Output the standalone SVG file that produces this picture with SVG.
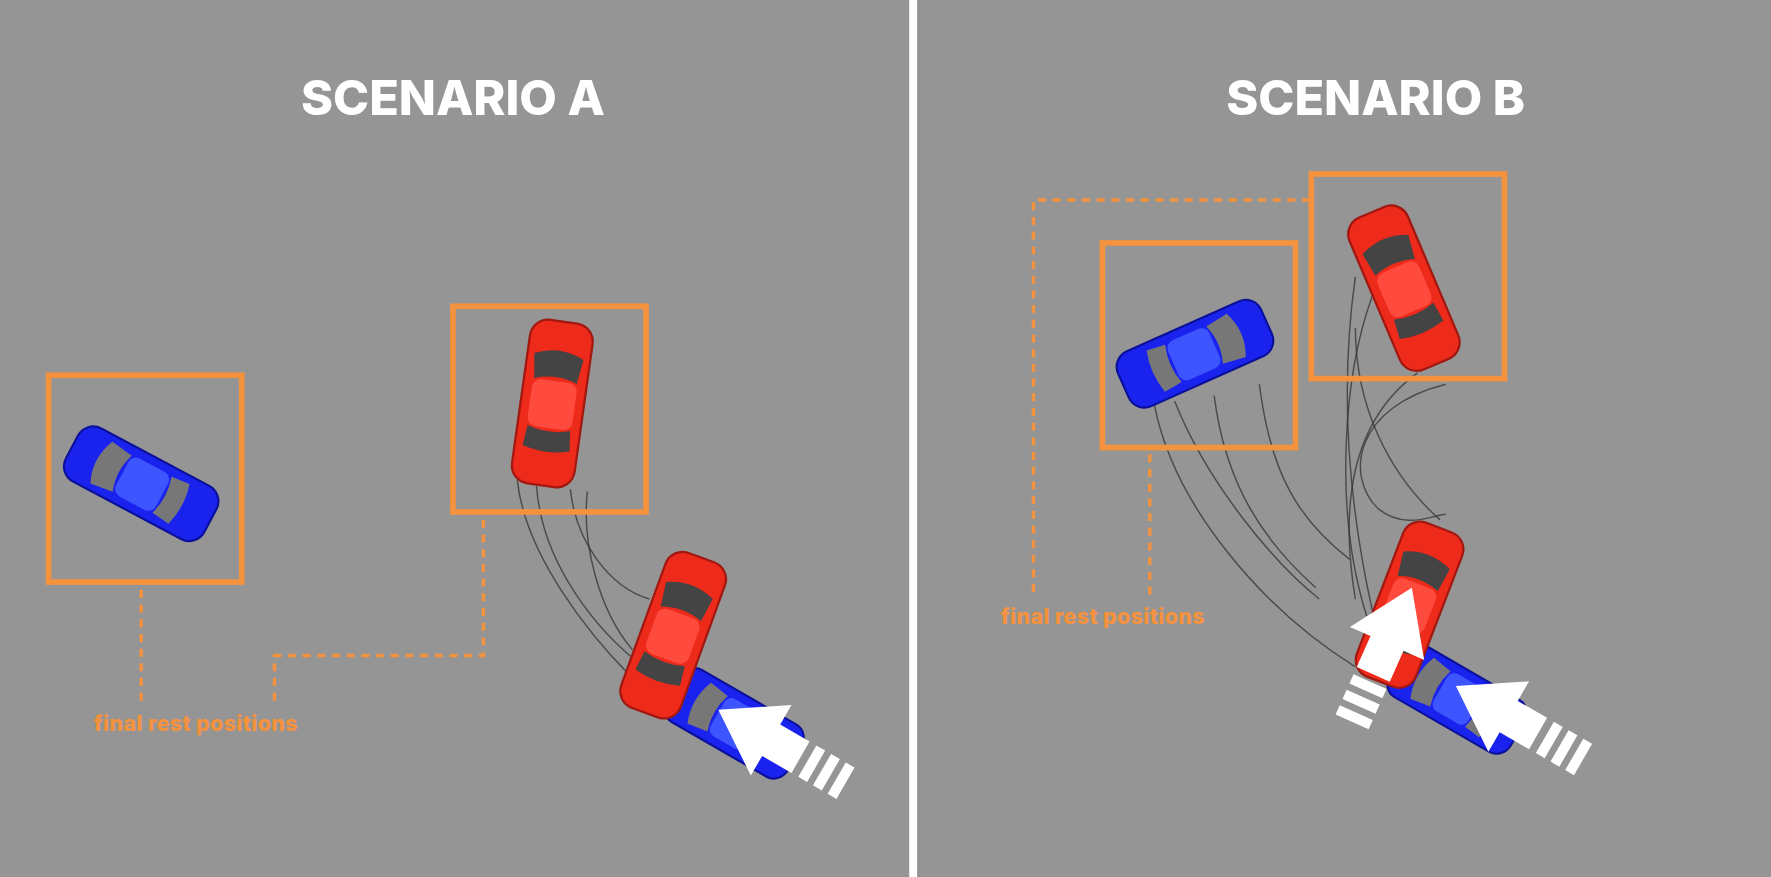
<svg xmlns="http://www.w3.org/2000/svg" width="1771" height="877" viewBox="0 0 1771 877">
<style>
.box{fill:none;stroke:#F5923E;stroke-width:5}
.dot{fill:none;stroke:#F5923E;stroke-width:3;stroke-dasharray:7 6}
.title{font-family:Inter,"Liberation Sans",sans-serif;font-weight:800;font-size:43px;fill:#fff;text-anchor:middle}
.lbl{font-family:Inter,"Liberation Sans",sans-serif;font-weight:800;font-size:19px;fill:#F5923E;letter-spacing:0.3px}
.trk{fill:none;stroke:#333;stroke-width:1.3;opacity:.75}
</style>
<defs>
<g id="redCar">
<rect x="-28" y="-73" width="56" height="146" rx="16" fill="#ee2a1a" stroke="#a01810" stroke-width="2"/>
<rect x="-20" y="-20" width="40" height="42" rx="8" fill="#ff4a3e"/>
<path d="M-22,-42 Q0,-52 22,-42 L19,-20 Q0,-27 -19,-20 Z" fill="#444"/>
<path d="M-19,22 Q0,28 19,22 L21,40 Q0,46 -21,40 Z" fill="#444"/>
</g>
<g id="blueCar">
<rect x="-28" y="-73" width="56" height="146" rx="16" fill="#1a22ee" stroke="#0a1099" stroke-width="2"/>
<rect x="-20" y="-20" width="40" height="42" rx="8" fill="#3d55ff"/>
<path d="M-22,-42 Q0,-52 22,-42 L19,-20 Q0,-27 -19,-20 Z" fill="#777"/>
<path d="M-19,22 Q0,28 19,22 L21,40 Q0,46 -21,40 Z" fill="#777"/>
</g>
<g id="arrow" fill="#fff">
<polygon points="0,0 36,54 16,54 16,84 -16,84 -16,54 -36,54"/>
<rect x="-16" y="91" width="32" height="9"/>
<rect x="-16" y="106" width="32" height="9"/>
<rect x="-16" y="121" width="32" height="9"/>
</g>
</defs>
<g transform="scale(1.12947,1.1302)">
<rect width="1568" height="776" fill="#959595"/>
<rect x="805" y="0" width="7" height="776" fill="#fff"/>
<text class="title" x="401" y="102">SCENARIO A</text>
<text class="title" x="1218" y="102">SCENARIO B</text>

<g id="tracks">
<path class="trk" d="M458,425 C465,490 520,560 560,600"/>
<path class="trk" d="M475,430 C480,500 530,560 570,590"/>
<path class="trk" d="M505,433 C510,480 540,520 575,530"/>
<path class="trk" d="M520,435 C515,480 530,540 560,575"/>
<path class="trk" d="M1022,358 C1040,450 1120,540 1200,590"/>
<path class="trk" d="M1040,355 C1070,430 1130,500 1168,530"/>
<path class="trk" d="M1075,350 C1085,430 1120,480 1165,520"/>
<path class="trk" d="M1115,340 C1125,420 1150,460 1195,495"/>
<path class="trk" d="M1200,245 C1185,350 1195,450 1215,540"/>
<path class="trk" d="M1215,262 C1190,330 1180,450 1210,545"/>
<path class="trk" d="M1255,330 C1200,370 1185,440 1200,530"/>
<path class="trk" d="M1280,340 C1200,360 1190,420 1220,450 C1245,470 1270,455 1280,455"/>
<path class="trk" d="M1200,290 C1200,360 1230,420 1275,460"/>
</g>

<g id="connectors">
<polyline class="dot" points="125,522 125,622"/>
<polyline class="dot" points="428,460 428,580 243,580 243,622"/>
<polyline class="dot" points="1160,177 915,177 915,528"/>
<polyline class="dot" points="1018,402 1018,528"/>
</g>

<g id="boxA1"><rect class="box" x="43" y="332" width="171" height="183"/></g>
<g id="boxA2"><rect class="box" x="401" y="271" width="171" height="182"/></g>
<g id="boxB1"><rect class="box" x="976" y="215" width="171" height="181"/></g>
<g id="boxB2"><rect class="box" x="1161" y="154" width="171" height="181"/></g>

<g id="carA1"><use href="#blueCar" transform="translate(125,428) rotate(-62) scale(0.95)"/></g>
<g id="carA2"><use href="#redCar" transform="translate(489,357) rotate(8)"/></g>
<g id="carA3"><use href="#blueCar" transform="translate(650,640) rotate(-60) scale(0.95,0.85)"/></g>
<g id="carA4"><use href="#redCar" transform="translate(596,562) rotate(20)"/></g>
<g id="arrowA"><use href="#arrow" transform="translate(636,628) rotate(-60)"/></g>

<g id="carB1"><use href="#blueCar" transform="translate(1058,313) rotate(66) scale(0.95)"/></g>
<g id="carB2"><use href="#redCar" transform="translate(1243,255) rotate(-23)"/></g>
<g id="carB3"><use href="#blueCar" transform="translate(1290,618) rotate(-60) scale(0.95,0.85)"/></g>
<g id="carB4"><use href="#redCar" transform="translate(1248,535) rotate(21)"/></g>
<g id="arrowB1"><use href="#arrow" transform="translate(1250,520) rotate(24)"/></g>
<g id="arrowB2"><use href="#arrow" transform="translate(1289,607) rotate(-60)"/></g>

<text class="lbl" x="83" y="647">final rest positions</text>
<text class="lbl" x="886" y="552">final rest positions</text>
</g>
</svg>
